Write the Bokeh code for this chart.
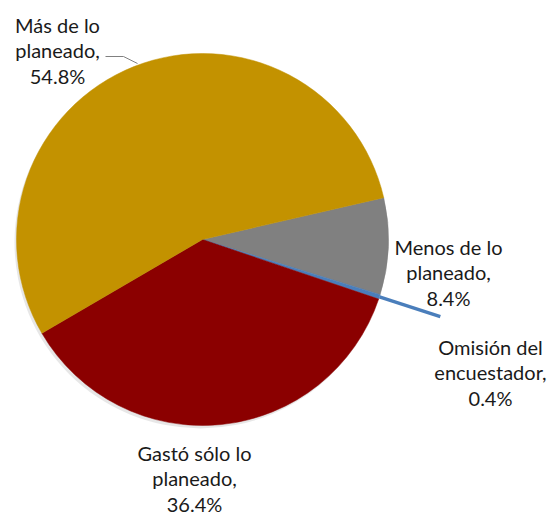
import math
from bokeh.plotting import figure
from bokeh.models import Range1d
from bokeh.core.properties import value
from bokeh.embed import file_html
from bokeh.resources import INLINE

# ---- data ----
categories = ["Menos de lo planeado", "Omisión del encuestador",
              "Gastó sólo lo planeado", "Más de lo planeado"]
values = [8.4, 0.4, 36.4, 54.8]
colors = ["#808080", "#4A7EBB", "#8B0000", "#C39200"]
label_lines = [
    ["Menos de lo", "planeado,", "8.4%"],
    ["Omisión del", "encuestador,", "0.4%"],
    ["Gastó sólo lo", "planeado,", "36.4%"],
    ["Más de lo", "planeado,", "54.8%"],
]

W, H = 559, 515
def px(x):
    return x
def py(y):
    return H - y

p = figure(width=W, height=H, output_backend="svg", toolbar_location=None,
           x_range=Range1d(0, W), y_range=Range1d(0, H), min_border=0)
p.axis.visible = False
p.grid.visible = False
p.outline_line_color = None
p.background_fill_color = "white"

cx, cy, r = px(202), py(239), 186
start_deg = 13.0
total = sum(values)

# shadow
p.circle(x=[cx - 2], y=[cy - 3], radius=r, fill_color="#bbbbbb", fill_alpha=0.35,
         line_color=None)

# slices drawn clockwise from start_deg
cur = start_deg
mids = []
for v, c in zip(values, colors):
    span = v / total * 360.0
    end = cur - span
    p.wedge(x=[cx], y=[cy], radius=r, start_angle=math.radians(end),
            end_angle=math.radians(cur), fill_color=c, line_color=c,
            line_width=0.5)
    mids.append((cur + end) / 2)
    cur = end

# blue leader for the tiny slice
a = math.radians(mids[1])
p.line(x=[cx + r * math.cos(a), cx + 250 * math.cos(a)],
       y=[cy + r * math.sin(a), cy + 250 * math.sin(a)],
       line_color=colors[1], line_width=3.5)

# leader for "Más de lo planeado"
p.line(x=[px(105), px(123), px(137)], y=[py(56), py(56), py(63)],
       line_color="#808080", line_width=1)

# labels (center x, first-line center y) in screen px
label_pos = [(448, 246), (490, 346), (194, 452), (57, 24)]
spacing = 25.5
for lines, (lx, ly) in zip(label_lines, label_pos):
    for i, t in enumerate(lines):
        p.text(x=[px(lx)], y=[py(ly + i * spacing)], text=[t],
               text_font=value("Lato"), text_font_size="20px",
               text_color="#1a1a1a", text_align="center",
               text_baseline="middle")

open("out.html", "w").write(file_html(p, INLINE))
